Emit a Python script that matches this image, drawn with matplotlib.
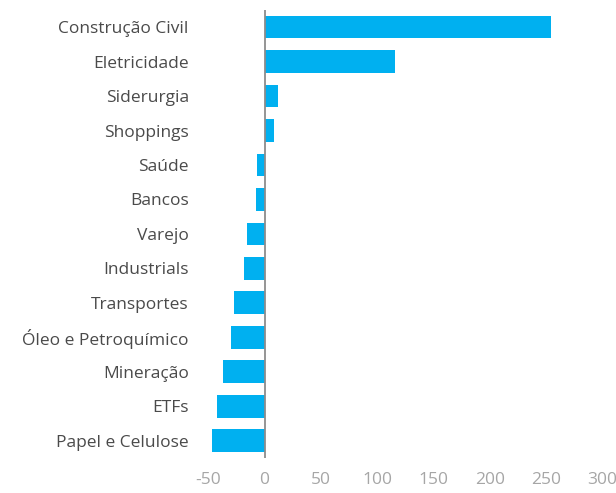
import matplotlib.pyplot as plt

plt.rcParams['font.family'] = ['Open Sans', 'DejaVu Sans']

setores = ['Construção Civil', 'Eletricidade', 'Siderurgia', 'Shoppings', 'Saúde',
           'Bancos', 'Varejo', 'Industrials', 'Transportes', 'Óleo e Petroquímico',
           'Mineração', 'ETFs', 'Papel e Celulose']
valores = [254, 116, 12, 8, -6.5, -8, -16, -18, -26.7, -29.5, -36.6, -42, -46.6]
xticks = [-50, 0, 50, 100, 150, 200, 250, 300]

fig = plt.figure(figsize=(6.16, 4.93), dpi=100)
ax = fig.add_axes([0.338, 0.071, 0.640, 0.909])

pos = list(range(len(setores)))
ax.barh(pos, valores, height=0.66, color='#00B0F0')
ax.axvline(0, color='#8c8c8c', lw=1.3, zorder=3)

ax.set_xlim(-50, 300)
ax.set_ylim(12.5, -0.5)
ax.set_yticks(pos)
ax.set_yticklabels(setores)
ax.set_xticks(xticks)
ax.set_xticklabels([str(v) for v in xticks])
# rotulos das categorias ficam a esquerda da area do grafico
ax.tick_params(axis='y', length=0, pad=14, labelsize=12.5, labelcolor='#4a4a4a')
ax.tick_params(axis='x', length=0, pad=10, labelsize=12.5, labelcolor='#a6a6a6')
for s in ax.spines.values():
    s.set_visible(False)

fig.savefig('out.png', dpi=100)
